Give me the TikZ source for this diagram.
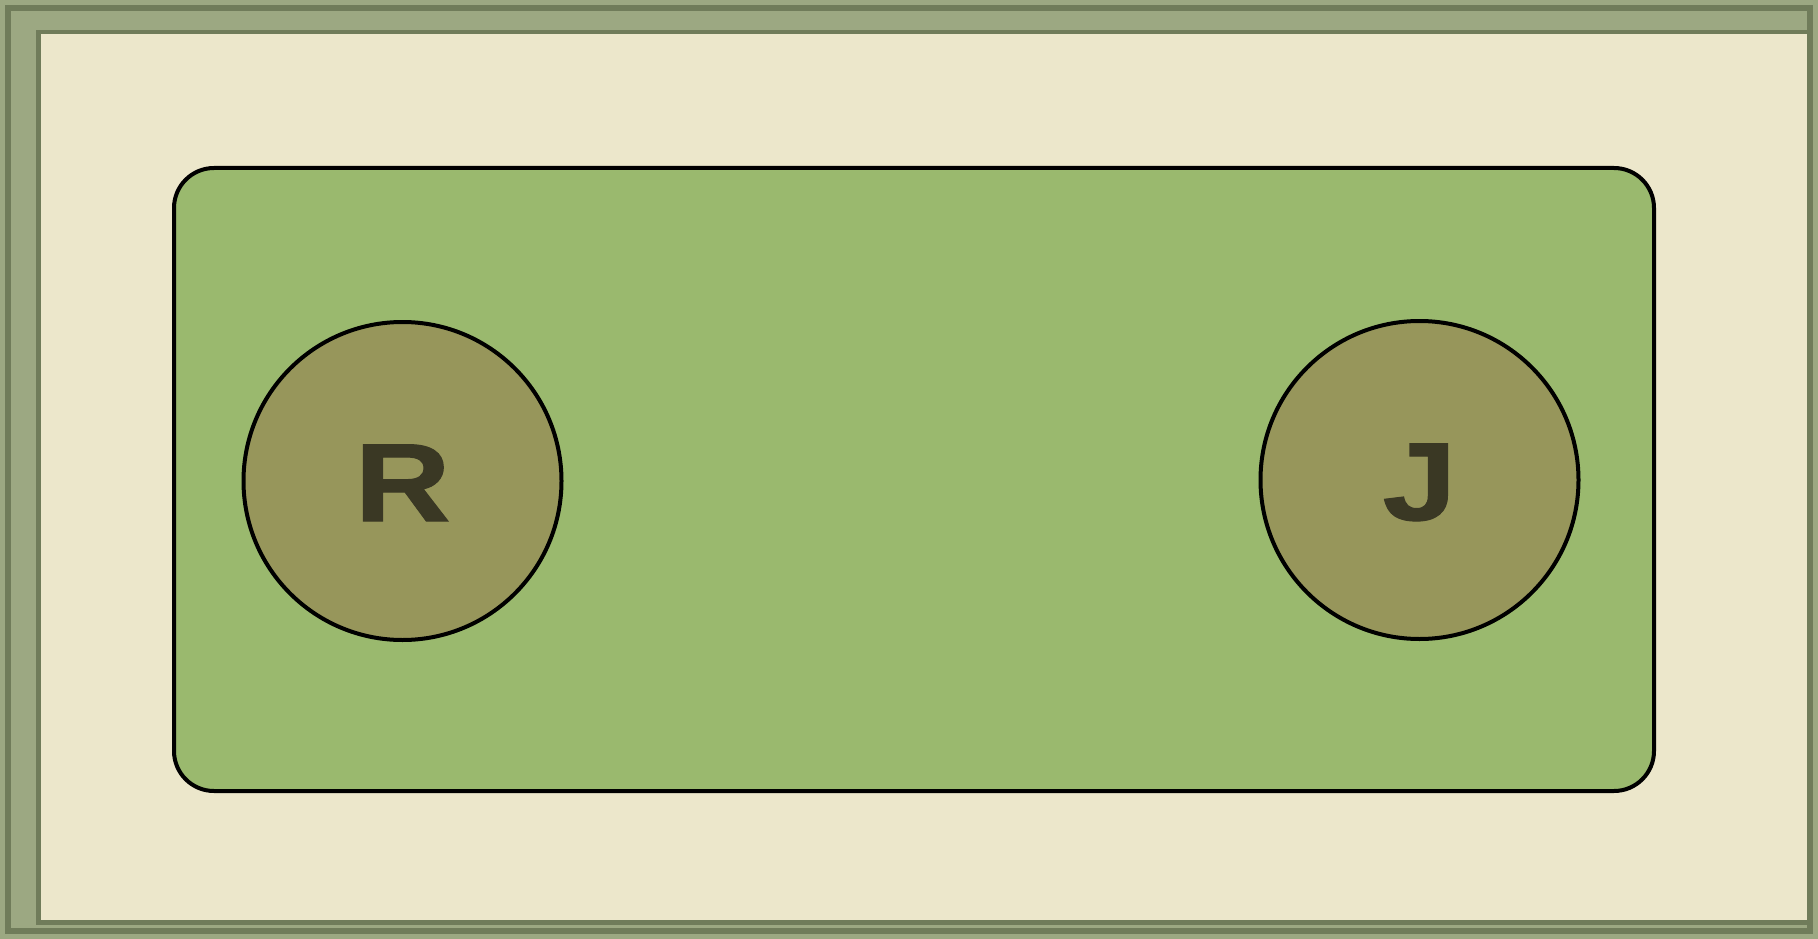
\documentclass[tikz,border=0pt]{standalone}
\usepackage{fontspec}
\newfontfamily\letterfont[FakeStretch=1.2,FakeBold=1]{Liberation Sans}
\usetikzlibrary{positioning}
\definecolor{framegreen}{RGB}{156,168,130}
\definecolor{framedark}{RGB}{112,124,90}
\definecolor{cream}{RGB}{236,231,203}
\definecolor{boxgreen}{RGB}{154,185,110}
\definecolor{olive}{RGB}{151,150,91}
\definecolor{letter}{RGB}{58,56,36}
\tikzset{
  panel/.style={draw=black, line width=4pt, fill=boxgreen, rounded corners=40pt, minimum width=1480pt, minimum height=623pt, inner sep=0pt},
  disc/.style={circle, draw=black, line width=4pt, fill=olive, minimum size=318pt, inner sep=0pt, text=letter, text height=80pt, text depth=0pt, font=\letterfont\bfseries\fontsize{111}{111}\selectfont}
}
\begin{document}
\begin{tikzpicture}[x=1pt,y=-1pt]
\useasboundingbox (0,0) rectangle (1818,939);
\fill[framegreen] (0,0) rectangle (1818,939);
\draw[framedark, line width=6pt] (8,8) rectangle (1810,931);
\fill[framedark] (36,30) rectangle (1810,925);
\fill[cream] (41,34) rectangle (1807,920);
\node[panel] (box) at (914,479.5) {};
\node[disc] (r) at (402.5,481) {R};
\node[disc] (j) at (1419.5,480) {J};
\end{tikzpicture}
\end{document}
